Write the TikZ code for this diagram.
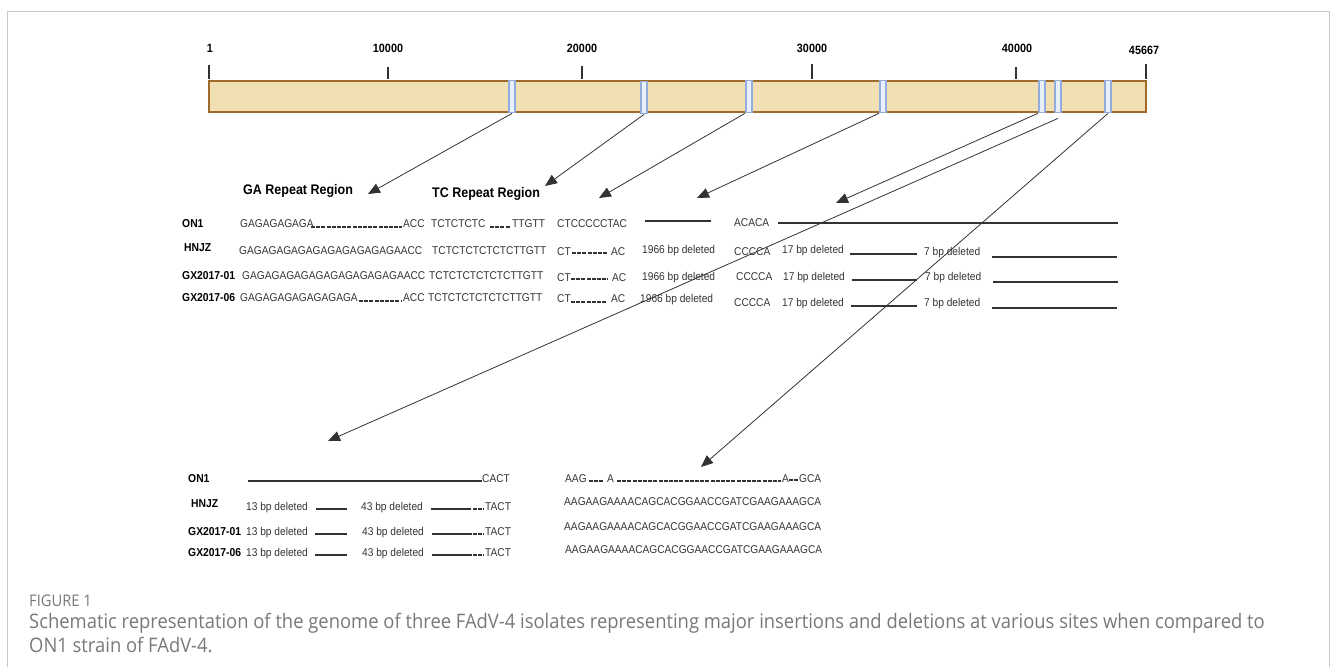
\documentclass[tikz,border=0pt]{standalone}
\usepackage{fontspec}
\setmainfont{Liberation Sans}[FakeStretch=0.9]
\newfontfamily\capfont{Open Sans}[FakeStretch=0.92]
\usetikzlibrary{arrows.meta}
\definecolor{barfill}{HTML}{F0E0B4}
\definecolor{barline}{HTML}{A06A2A}
\definecolor{mkfill}{HTML}{E8F0FC}
\definecolor{mkline}{HTML}{94ACDC}
\definecolor{ink}{HTML}{333333}
\definecolor{framec}{HTML}{C8C8C8}
\definecolor{capc}{HTML}{787878}
\begin{document}
\begin{tikzpicture}[x=1pt,y=-1pt,
  seq/.style={anchor=west, inner sep=0pt, text height=8.1pt, text depth=0pt, font=\fontsize{11.3}{13}\selectfont, text=ink},
  lbl/.style={seq, font=\fontsize{11.5}{13}\selectfont\bfseries, text=black},
  hdr/.style={anchor=west, inner sep=0pt, text height=10pt, text depth=0pt, font=\fontsize{13.9}{16}\selectfont\bfseries, text=black},
  ticklbl/.style={anchor=base, inner sep=0pt, font=\fontsize{12}{14}\selectfont\bfseries, text=black},
  tickline/.style={draw=ink, line width=1.3pt},
  mk/.style={draw=mkline, fill=mkfill, line width=1.8pt, minimum width=6.5pt, minimum height=32pt, inner sep=0pt},
  conn/.style={draw=ink, line width=0.8pt, -{Triangle[length=12pt,width=10pt]}},
  delline/.style={draw=ink, line width=1.8pt},
  dsh/.style={draw=ink, line width=1.3pt, dash pattern=on 4pt off 1.2pt},
  captext/.style={anchor=west, inner sep=0pt, text=capc},
]
\useasboundingbox (0,0) rectangle (1331,667);
% frame
\draw[framec, line width=1pt] (7.5,667) -- (7.5,11.5) -- (1329.5,11.5) -- (1329.5,667);

% genome bar
\node[draw=barline, fill=barfill, line width=2pt, minimum width=937pt, minimum height=31.5pt, inner sep=0pt] (genome) at (677.5,96.5) {};
% ticks
\draw[tickline] (209,65) -- (209,79);
\draw[tickline] (388,67) -- (388,79);
\draw[tickline] (582,66) -- (582,79);
\draw[tickline] (812,64) -- (812,79);
\draw[tickline] (1016,67) -- (1016,79);
\draw[tickline] (1146,64) -- (1146,79);
\node[ticklbl] (k1) at (210,52) {1};
\node[ticklbl] (k2) at (388,52) {10000};
\node[ticklbl] (k3) at (582,52) {20000};
\node[ticklbl] (k4) at (812,52) {30000};
\node[ticklbl] (k5) at (1017,52) {40000};
\node[ticklbl] (k6) at (1144,54) {45667};
% markers
\node[mk] (m1) at (512,96.5) {};
\node[mk] (m2) at (644,97.5) {};
\node[mk] (m3) at (749,96.5) {};
\node[mk] (m4) at (883,96.5) {};
\node[mk] (m5) at (1042,96.5) {};
\node[mk] (m6) at (1058,96.5) {};
\node[mk] (m7) at (1108,96.5) {};

% headers
\node[hdr] (gahdr) at (243,189) {GA Repeat Region};
\node[hdr] (tchdr) at (432,192) {TC Repeat Region};

% ON1 row
\node[lbl] (r1) at (182,223) {ON1};
\node[seq] (r1a) at (240,223) {GAGAGAGAGA};
\draw[dsh] (311,227) -- (402,227);
\node[seq] (r1b) at (403,223) {ACC};
\node[seq] (r1c) at (431,223) {TCTCTCTC};
\draw[dsh] (490,227) -- (510,227);
\node[seq] (r1d) at (512,223) {TTGTT};
\node[seq] (r1e) at (557,223) {CTCCCCCTAC};
\draw[delline] (645,221) -- (711,221);
\node[seq] (r1f) at (734,222) {ACACA};
\draw[delline] (778,223) -- (1118,223);

% HNJZ row
\node[lbl] (r2) at (184,247) {HNJZ};
\node[seq] (r2a) at (239,250) {GAGAGAGAGAGAGAGAGAGAGAACC};
\node[seq] (r2b) at (432,250) {TCTCTCTCTCTCTTGTT};
\node[seq] (r2c) at (557,251) {CT};
\draw[dsh] (572,253) -- (608,253);
\node[seq] (r2d) at (611,251) {AC};
\node[seq] (r2e) at (642,249) {1966 bp deleted};
\node[seq] (r2f) at (734,251) {CCCCA};
\node[seq] (r2g) at (782,249) {17 bp deleted};
\draw[delline] (850,254) -- (917,254);
\node[seq] (r2h) at (924,251) {7 bp deleted};
\draw[delline] (992,257) -- (1117,257);

% GX2017-01 row
\node[lbl] (r3) at (182,275) {GX2017-01};
\node[seq] (r3a) at (242,275) {GAGAGAGAGAGAGAGAGAGAGAACC};
\node[seq] (r3b) at (429,275) {TCTCTCTCTCTCTTGTT};
\node[seq] (r3c) at (557,277) {CT};
\draw[dsh] (571,279) -- (608,279);
\node[seq] (r3d) at (612,277) {AC};
\node[seq] (r3e) at (642,276) {1966 bp deleted};
\node[seq] (r3f) at (736,276) {CCCCA};
\node[seq] (r3g) at (783,276) {17 bp deleted};
\draw[delline] (852,280) -- (917,280);
\node[seq] (r3h) at (925,276) {7 bp deleted};
\draw[delline] (993,282) -- (1118,282);

% GX2017-06 row
\node[lbl] (r4) at (182,297) {GX2017-06};
\node[seq] (r4a) at (240,297) {GAGAGAGAGAGAGAGA};
\draw[dsh] (359,301) -- (402,301);
\node[seq] (r4b) at (403,297) {ACC};
\node[seq] (r4c) at (428,297) {TCTCTCTCTCTCTTGTT};
\node[seq] (r4d) at (557,298) {CT};
\draw[dsh] (571,302) -- (607,302);
\node[seq] (r4e) at (611,298) {AC};
\node[seq] (r4f) at (640,298) {1966 bp deleted};
\node[seq] (r4g) at (734,302) {CCCCA};
\node[seq] (r4h) at (782,302) {17 bp deleted};
\draw[delline] (851,306) -- (917,306);
\node[seq] (r4i) at (924,302) {7 bp deleted};
\draw[delline] (992,308) -- (1117,308);

% lower left block
\node[lbl] (s1) at (188,478) {ON1};
\draw[delline] (248,481) -- (482,481);
\node[seq] (s1a) at (482,478) {CACT};

\node[lbl] (s2) at (191,503) {HNJZ};
\node[seq] (s2a) at (246,506) {13 bp deleted};
\draw[delline] (316,509) -- (347,509);
\node[seq] (s2b) at (361,506) {43 bp deleted};
\draw[delline] (431,509) -- (471,509);
\draw[dsh] (473,509) -- (484,509);
\node[seq] (s2c) at (485,506) {TACT};

\node[lbl] (s3) at (188,531) {GX2017-01};
\node[seq] (s3a) at (246,531) {13 bp deleted};
\draw[delline] (315,534) -- (347,534);
\node[seq] (s3b) at (362,531) {43 bp deleted};
\draw[delline] (432,534) -- (472,534);
\draw[dsh] (473,534) -- (484,534);
\node[seq] (s3c) at (485,531) {TACT};

\node[lbl] (s4) at (188,552) {GX2017-06};
\node[seq] (s4a) at (246,552) {13 bp deleted};
\draw[delline] (315,555) -- (347,555);
\node[seq] (s4b) at (362,552) {43 bp deleted};
\draw[delline] (432,555) -- (472,555);
\draw[dsh] (473,555) -- (484,555);
\node[seq] (s4c) at (485,552) {TACT};

% lower right block
\node[seq] (q1) at (565,478) {AAG};
\draw[dsh] (589,481) -- (603,481);
\node[seq] (q1a) at (607,478) {A};
\draw[dsh] (617,481) -- (781,481);
\node[seq] (q1b) at (782,478) {A};
\draw[dsh] (789,480) -- (798,480);
\node[seq] (q1c) at (799,478) {GCA};
\node[seq] (q2) at (564,501) {AAGAAGAAAACAGCACGGAACCGATCGAAGAAAGCA};
\node[seq] (q3) at (564,526) {AAGAAGAAAACAGCACGGAACCGATCGAAGAAAGCA};
\node[seq] (q4) at (565,549) {AAGAAGAAAACAGCACGGAACCGATCGAAGAAAGCA};

% arrow targets
\coordinate (t1) at (368,194);
\coordinate (t2) at (545,186);
\coordinate (t3) at (599,198);
\coordinate (t4) at (697,198);
\coordinate (t5) at (836,203);
\coordinate (t6) at (328,441);
\coordinate (t7) at (701,467);
\draw[conn] (m1.south) -- (t1);
\draw[conn] (m2.south) -- (t2);
\draw[conn] (m3.south west) -- (t3);
\draw[conn] (m4.south west) -- (t4);
\draw[conn] (m5.south west) -- (t5);
\draw[conn] ([yshift=-5pt]m6.south) -- (t6);
\draw[conn] (m7.south) -- (t7);

% caption
\node[captext, font=\capfont\fontsize{16}{19}\selectfont] (figlbl) at (29,601) {FIGURE 1};
\node[captext, font=\capfont\fontsize{20}{24}\selectfont] (cap1) at (29,623) {Schematic representation of the genome of three FAdV-4 isolates representing major insertions and deletions at various sites when compared to};
\node[captext, font=\capfont\fontsize{20}{24}\selectfont] (cap2) at (29,645) {ON1 strain of FAdV-4.};
\end{tikzpicture}
\end{document}
